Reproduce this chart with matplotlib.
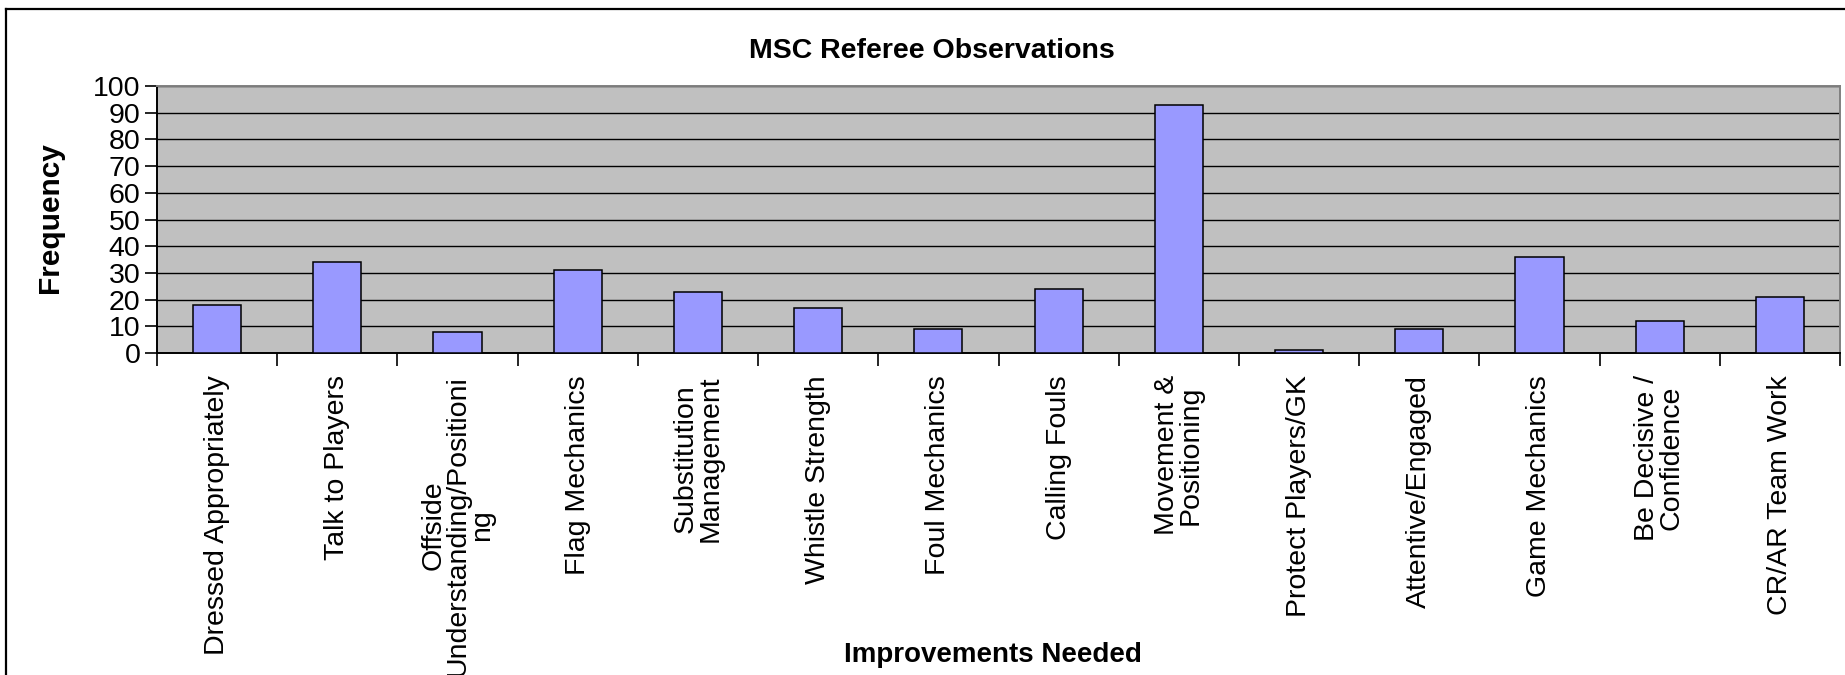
import matplotlib
matplotlib.use("Agg")
import matplotlib.pyplot as plt
from matplotlib import font_manager
from matplotlib.lines import Line2D

categories = [
    "Dressed Appropriately",
    "Talk to Players",
    "Offside\nUnderstanding/Positioni\nng",
    "Flag Mechanics",
    "Substitution\nManagement",
    "Whistle Strength",
    "Foul Mechanics",
    "Calling Fouls",
    "Movement &\nPositioning",
    "Protect Players/GK",
    "Attentive/Engaged",
    "Game Mechanics",
    "Be Decisive /\nConfidence",
    "CR/AR Team Work",
]
frequency = [18, 34, 8, 31, 23, 17, 9, 24, 93, 1, 9, 36, 12, 21]
y_ticks = list(range(0, 101, 10))

names = {f.name for f in font_manager.fontManager.ttflist}
narrow = "Liberation Sans Narrow" if "Liberation Sans Narrow" in names else "Liberation Sans"
regular = "Liberation Sans"

W, H = 1845, 675
fig = plt.figure(figsize=(W / 100, H / 100), dpi=100)
ax = fig.add_axes([157 / W, 1 - 353 / H, (1840 - 157) / W, (353 - 86) / H])

ax.set_facecolor("#c0c0c0")
x = list(range(len(categories)))
ax.bar(x, frequency, width=0.4, color="#9999ff", edgecolor="black",
       linewidth=1.1, zorder=3)

ax.set_xlim(-0.5, len(categories) - 0.5)
ax.set_ylim(0, 100)
ax.set_yticks(y_ticks)
ax.set_yticklabels([str(v) for v in y_ticks], fontfamily=narrow, fontsize=20.5)
ax.yaxis.grid(True, color="black", linewidth=1.0, zorder=1)
ax.set_axisbelow(True)

# boundary tick marks, labels sit at the category centres
ax.set_xticks([i - 0.5 for i in range(len(categories) + 1)])
ax.set_xticklabels([])
ax.set_xticks(x, minor=True)
ax.set_xticklabels(categories, minor=True, rotation=90, ha="center", va="top",
                   multialignment="center", fontfamily=regular, fontsize=20.5,
                   linespacing=0.92)
ax.tick_params(axis="x", which="minor", length=0, pad=16)
ax.tick_params(axis="x", which="major", length=9, width=1.2, color="black")
ax.tick_params(axis="y", length=9, width=1.2, color="black", pad=3)

for side in ("left", "bottom"):
    ax.spines[side].set_color("black")
    ax.spines[side].set_linewidth(1.4)
for side in ("top", "right"):
    ax.spines[side].set_color("#808080")
    ax.spines[side].set_linewidth(1.4)

fig.text(932 / W, 1 - 51 / H, "MSC Referee Observations", ha="center",
         va="center", fontfamily=narrow, fontweight="bold", fontsize=20.5)
fig.text(993 / W, 1 - 655 / H, "Improvements Needed", ha="center",
         va="center", fontfamily=narrow, fontweight="bold", fontsize=20)
fig.text(50 / W, 1 - 218 / H, "Frequency", ha="center", va="center",
         rotation=90, fontfamily=regular, fontweight="bold", fontsize=21.5)

# chart frame, only its top and left edges fall inside the image
fig.add_artist(Line2D([6 / W, 6 / W], [0, 1 - 9 / H], color="black",
                      linewidth=1.6, transform=fig.transFigure))
fig.add_artist(Line2D([6 / W, 1], [1 - 9 / H, 1 - 9 / H], color="black",
                      linewidth=1.6, transform=fig.transFigure))

fig.savefig("out.png", dpi=100, facecolor="white")
